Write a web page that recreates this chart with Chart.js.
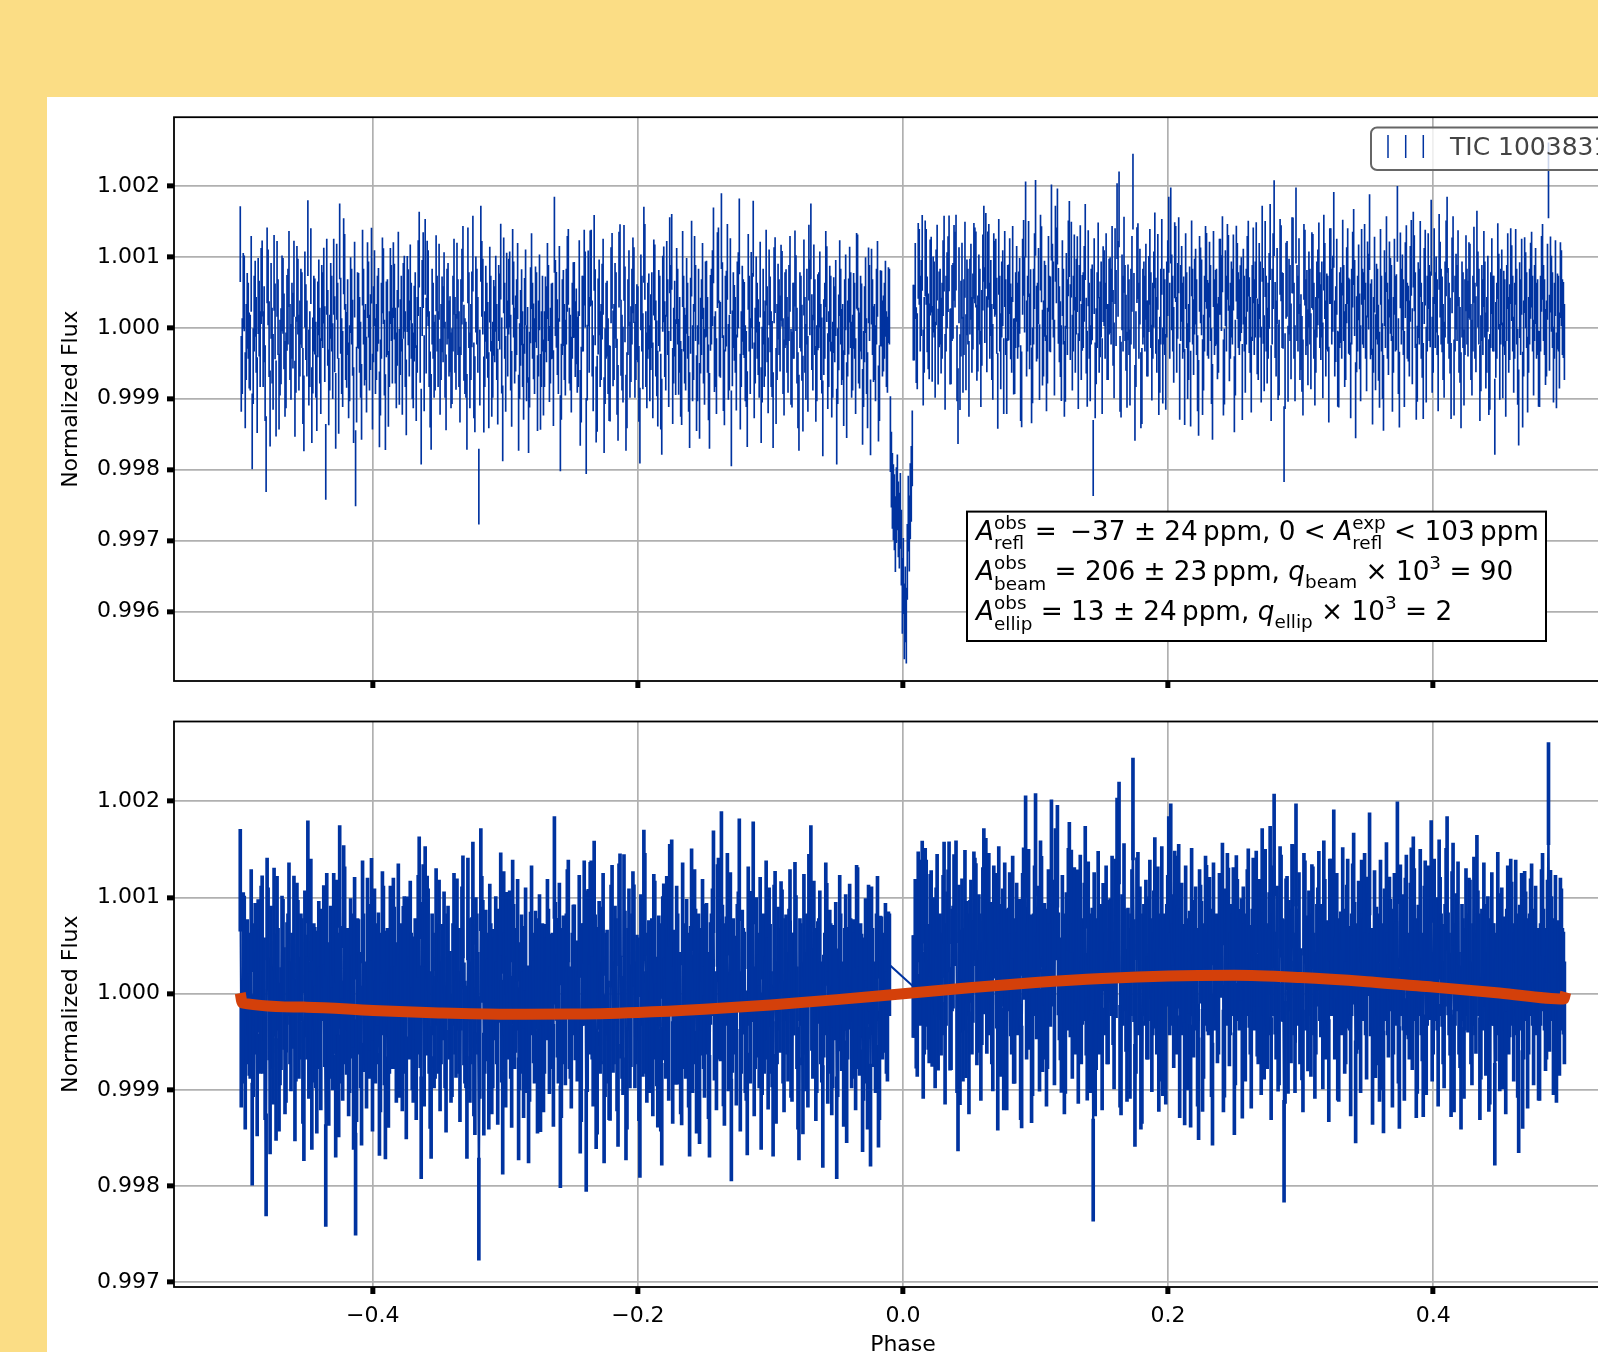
<!DOCTYPE html>
<html>
<head>
<meta charset="utf-8">
<title>Phase-folded light curve</title>
<script src="https://cdn.jsdelivr.net/npm/chart.js@4.4.1/dist/chart.umd.min.js"></script>
<style>
  html, body { margin: 0; padding: 0; overflow: hidden; background: #fbdd85; }
  #page { position: relative; width: 1598px; height: 1352px; overflow: hidden; background: #fbdd85; }
  #sheet { position: absolute; left: 47px; top: 97px; right: 0; bottom: 0; background: #fff; }
  canvas { position: absolute; }
  #top { left: 47px; top: 97px; }
  #bottom { left: 47px; top: 700px; }
</style>
</head>
<body>
<div id="page">
  <div id="sheet"></div>
  <canvas id="top" width="1653" height="620"></canvas>
  <canvas id="bottom" width="1653" height="670"></canvas>
</div>
<script>
// phase grid of the folded light curve: main samples at PHASE_START + i*STEP,
// in-between samples half a step later
const PHASE_START = -0.5;
const PHASE_STEP = 0.0015;
const FLUX_ERR_PPM = 530;

// flux offsets in ppm
const fluxEarly = [
  1180, -400, 486, -200, 100, -350, -1460, 200, -100, 449,
  -300, 696, 50, -1780, 570, -1137, -250, 776, -997, 150,
  -420, 486, -50, -600, 300, -200, 100, 692, -380, 440,
  -150, 250, -1207, 80, 1266, -300, -1090, 200, -450, 120,
  -250, 350, 594, -1890, 0, -350, 200, 720, -1170, 100,
  1219, -400, 1009, -200, 150, -500, 300, -1090, -1980, 250,
  -100, -1044, 300, -200, 673, -350, 878, 50, -400, 200,
  -1151, 100, 589, -1188, 150, -300, 350, 673, -250, 0,
  -550, 200, 379, -300, 477, -150, 100, -600, 250, -100,
  1102, -1394, 813, 1000, 692, -300, -1184, 100, -350, 200,
  650, -200, 50, -450, 300, -150, -600, 200, -100, 664,
  -300, 150, 902, -400, -1184, 250, -200, 1046, -937, 300,
  -2240, 1186, 440, -300, 100, -880, 200, -450, 50, -200,
  350, 934, -1347, 100, 524, 440, -350, 860, -250, 150,
  -1198, 0, -300, 169, -500, -1230, 318, 100, -400, 250,
  -150, -904, 200, -300, 50, 350, -250, 100, 1312, 253,
  -400, -1487, 150, -200, 300, 860, -350, 100, 393
];
const fluxPreEclipse = [
  20, -300, -1128, 200, 850, -1525, 556, 836, -150, 1056,
  -1081, 160, -300, 370, -1231, 100, -400, -787, 804, -200,
  250, -1058, 925, -350, 916, -1198, 150, -450, 300, 603,
  -200, 50, -1380, 200, 1172, -300, 100, -500, 250, 710,
  -150, -857, 200, -1254, 612, -350, 150, 1023, 1070, -250,
  -414, 300, -100, -834, 200, -350, 100, -1160, 976, -200,
  350, -500, -1030, 150, -250, 400, -100, -1170, 300, 1163,
  -300, 813, -150, 1364, -638, 200, 930, -350, -1417, 250,
  -100, 400, 1289, -300, 150, -500, -1147, 200, 533, 1256,
  -250, 100, -450, -1090, 300, -150, 50, 570, -300, -1160,
  743, -200, 150, 636, -400, 250, -100, 350, -550, 100,
  836, -250, -1198, 200, -927, -100, 300, 920, 1219, -350,
  150, -500, 250, -200, -1277, 100, 617, -300, 200, -450,
  50, -1394, -64, 300, -200, 150, -1020, 160, 250, -350,
  100, 804, -250, 200, -1114, 50, -400, 598, -1263, 150,
  -200, 300, -1067, 276, -150, 100, -300, 320
];
const fluxEclipse = [
  -1500, -2300, -2600, -2500, -2700, -2580, -3780, -4140, -4200, -2620, -2445, -1700
];
const fluxPostEclipse = [
  74, -244, 944, 200, 1056, -100, 860, -50, 710, -227,
  400, 570, -265, 300, 100, 1046, 200, 757, -265, 350,
  916, 1060, -1105, -624, 664, 150, -344, 300, 440, -100,
  944, 822, -80, 300, 0, 1186, 1084, 822, 100, -200,
  799, 720, -890, 200, 400, -680, 150, 350, 729, -100,
  -404, 250, 100, 450, -867, 986, 1527, 200, -50, -811,
  300, 1550, 100, -484, 897, -150, 350, -250, 200, 1485,
  400, 1186, 1429, 50, -498, 300, -507, 150, 1252, 962,
  200, -100, 757, 350, -200, 250, 1210, -577, 100, 300,
  -1835, -740, 250, -100, 400, 617, 100, -200, 440, 300,
  0, 869, 1504, 1670, -731, 200, 350, -591, 150, 300,
  1920, -1058, 883, 100, -880, 300, 200, -150, 477, 250,
  100, 1093, -100, -694, 300, -531, 150, 400, 1312, 1443,
  200, 953, -100, 1023, 350, 100, -834, 250, -200, -857,
  300, 440, 150, -988, 598, -694, 200, 804, 100, 350,
  -1044, 150, 300, -100, 720, 1037, -545, 200, 776, 100,
  300, -937, 906, 250, 346
];
const fluxLate = [
  -764, 200, 300, 976, -100, 350, 150, 953, -200, 400,
  1186, -358, 200, 100, 1210, 300, 1546, -150, -484, 1000,
  250, -1639, 664, -507, 350, 1023, 100, 1443, 200, -200,
  -367, 930, 150, -274, 300, 813, 100, -100, 570, 250,
  400, 1060, -150, 200, 869, 300, 1382, 53, -577, 250,
  100, 350, -200, 869, 150, 300, 1140, -1021, 200, -50,
  860, 250, 100, 682, 1350, 150, -100, -344, 300, -591,
  200, -918, 250, 100, 682, 350, -100, 200, 1466, -871,
  300, 150, 673, 100, -150, 986, 1102, 250, -507, 300,
  100, -750, 850, 200, 350, 1270, -100, 250, 150, 1070,
  300, -200, 400, 1312, 100, -750, 1037, 200, 350, -100,
  -880, 250, 150, 300, 673, -200, 200, 100, 1116, 300,
  -358, 150, 400, -100, -694, 250, 200, -1254, 100, 510,
  300, -460, 150, 350, -100, 869, 200, 100, 300, -1123,
  150, -871, 743, 250, -100, 664, 200, 350, 100, -577,
  200, 930, 150, -150, 2080, 752, 250, 100, -600, 200,
  673, 150, -200
];

// in-between samples (dense core of the band)
const midEarly = [
  -650, 520, -880, 240, -320, 760, -540, 410, -950, 130,
  590, -300, -780, 880, -160, 380, -620, 90, 690, -900,
  -260, 450, -720, 210, 830, -480, -40, -1000, 620, -350,
  300, -820, 540, -150, -560, 870, -390, 160, -920, 430,
  -680, 250, -230, 720, -840, 380, -470, -90, 650, -960,
  170, -580, 790, -310, -740, 460, -140, 680, -800, 240,
  -450, 850, -280, -660, 400, -60, -900, 560, -200, 310,
  -700, 740, -420, 120, -860, 590, -250, 370, -600, 820,
  -130, -690, 480, -980, 290, 640, -470, 60, -780, 700,
  -240, 420, -640, -110, 560, -870, 300, -450, 770, -300,
  -690, 190, 530, -910, 380, -90, -540, 720, -340, 150,
  -800, 580, -210, -450, 880, -600, 260, -740, 470, -100,
  -560, 690, -940, 340, -170, 610, -720, 140, 480, -830,
  230, -390, 740, -650, -150, 540, -860, 400, -80, 660,
  -470, 290, -760, 570, -240, -590, 800, -190, 330, -920,
  500, -300, -700, 190, 660, -510, 90, -850, 420, -130,
  620, -760, 280, -420, 760, -250, -660, 390, -160
];
const midPreEclipse = [
  -380, 700, -800, 200, 540, -490, -100, 850, -640, 290,
  -930, 430, -200, 720, -540, 130, -780, 600, -290, 380,
  -690, 820, -140, -520, 330, -880, 560, -230, 740, -450,
  80, -790, 500, -330, 930, -600, 230, -60, -740, 640,
  -430, 280, -900, 480, -160, 690, -580, 350, -820, 130,
  590, -410, -720, 830, -250, 450, -650, 170, -500, 760,
  -920, 300, -110, 660, -550, 410, -770, 210, 560, -370,
  -680, 880, -170, 390, -840, 270, -480, 730, -290, 70,
  -630, 530, -900, 340, 110, -580, 790, -400, 240, -740,
  470, -130, 680, -520, -300, 850, -670, 190, -440, 600,
  -820, 370, -80, 550, -700, 290, -380, 760, -590, 100,
  490, -880, 250, -210, 710, -480, -650, 430, -60, 640,
  -790, 220, 540, -390, -130, 830, -610, 340, -730, 180,
  420, -540, 700, -270, -850, 500, -150, 610, -450, 240,
  -680, 780, -320, 90, -580, 460, -880, 350, 580, -230,
  -500, 690, -780, 270, -80, 410, -380, 300
];
const midEclipse = [
  -2000, -2460, -2910, -2320, -2860, -3100, -3500, -3900, -3300, -2900, -2200
];
const midPostEclipse = [
  74, 660, -330, 860, 420, -560, 980, 190, -190, 750,
  470, -450, 920, 260, -110, 700, -620, 530, 1050, -260,
  380, 820, -500, 600, 130, -380, 960, 430, -720, 650,
  230, 880, -210, 500, -580, 780, 320, -90, 930, 420,
  -480, 690, 170, 1000, -330, 560, 830, -680, 360, 90,
  900, -400, 620, 260, -780, 720, 470, -150, 970, 290,
  -530, 800, 60, 590, 1060, -280, 410, -640, 760, 190,
  650, -420, 880, 310, -160, 700, -720, 520, 980, 80,
  -350, 780, 440, -610, 910, 210, 620, -110, 840, -500,
  360, 730, -260, 950, 120, -680, 560, 800, -200, 460,
  900, -460, 280, 690, -650, 500, 1030, -70, 360, -560,
  760, 240, -300, 940, 580, -820, 400, 650, -150, 860,
  -490, 540, 170, 790, -380, 1000, 300, -620, 700, 100,
  500, -240, 900, 380, -760, 620, 190, 800, -470, 330,
  980, -130, 580, -640, 760, 430, -350, 900, 140, 680,
  -540, 830, 280, -190, 720, 490, -700, 560, 930, -220,
  400, 780, -420, 660, 150, 460
];
const midLate = [
  580, -380, 760, 180, -660, 880, 400, -120, 660, -520,
  310, 970, -250, 520, -780, 800, 110, 590, -420, 910,
  240, -610, 690, 440, -190, 1020, -500, 350, 730, -60,
  -700, 850, 280, 540, -330, 790, -560, 400, 950, 80,
  -460, 660, 230, -800, 870, 480, -150, 720, -590, 320,
  990, -300, 600, 170, -740, 820, 420, -90, 640, -500,
  300, 930, -360, 510, 90, -830, 750, 370, -210, 860,
  -470, 560, 1040, -130, 450, -650, 720, 220, -400, 810,
  500, -580, 910, 60, 620, -260, 770, -760, 390, 970,
  -170, 590, -520, 800, 260, -380, 870, 470, -640, 680,
  190, -450, 980, 310, -110, 740, -700, 510, 840, -240,
  400, -560, 770, 130, 650, -420, 890, -90, 540, -780,
  350, 830, -320, 480, -620, 730, 200, -170, 940, -480,
  570, 270, -720, 800, 80, 630, -380, 860, -550, 390,
  720, -150, 530, -660, 300, 820, -420, 590, 150, -580,
  760, 350, -270, 650, -70, 480, -520, 700, 230, -320,
  560, 110
];

// phase-curve model (ppm)
const modelPhase = [-0.5, -0.4985, -0.45, -0.4, -0.35, -0.3, -0.25, -0.2, -0.15, -0.1, -0.05,
  0, 0.05, 0.1, 0.15, 0.2, 0.25, 0.3, 0.35, 0.4, 0.45, 0.4985, 0.5];
const modelPpm = [5, -95, -140, -175, -200, -213, -212, -195, -162, -118, -62,
  0, 62, 116, 158, 185, 192, 168, 125, 68, 8, -55, 15];

// tick labels
const xTickValues = [-0.4, -0.2, 0, 0.2, 0.4];
const topYTicks = [0.996, 0.997, 0.998, 0.999, 1.000, 1.001, 1.002];
const bottomYTicks = [0.997, 0.998, 0.999, 1.000, 1.001, 1.002];

const legendLabel = 'TIC 1003831';
const fitLines = [
  [{t: 'A', it: 1}, {sup: 'obs', sub: 'refl'}, {t: ' =\u2002−37 ± 24\u2009ppm, 0 < '}, {t: 'A', it: 1}, {sup: 'exp', sub: 'refl'}, {t: ' < 103\u2009ppm'}],
  [{t: 'A', it: 1}, {sup: 'obs', sub: 'beam'}, {t: ' = 206 ± 23\u2009ppm, '}, {t: 'q', it: 1}, {sub: 'beam'}, {t: ' × 10'}, {sup: '3'}, {t: ' = 90'}],
  [{t: 'A', it: 1}, {sup: 'obs', sub: 'ellip'}, {t: ' = 13 ± 24\u2009ppm, '}, {t: 'q', it: 1}, {sub: 'ellip'}, {t: ' × 10'}, {sup: '3'}, {t: ' = 2'}]
];

const FONT = 'DejaVu Sans';
const BLUE = '#0033a0';
const ORANGE = '#d4400a';
Chart.defaults.font.family = FONT;

const err = FLUX_ERR_PPM * 1e-6;
const points = [];
function addGroup(arr, startIndex, eclipse) {
  arr.forEach((p, j) => {
    points.push({ phase: PHASE_START + (startIndex + j) * PHASE_STEP, flux: 1 + p * 1e-6, eclipse: eclipse });
  });
}
const iPre = fluxEarly.length;
const iEcl = iPre + fluxPreEclipse.length;
const iPost = iEcl + fluxEclipse.length;
const iLate = iPost + fluxPostEclipse.length;
addGroup(fluxEarly, 0, false);
addGroup(fluxPreEclipse, iPre, false);
addGroup(fluxEclipse, iEcl, true);
addGroup(fluxPostEclipse, iPost, false);
addGroup(fluxLate, iLate, false);
addGroup(midEarly, 0.5, false);
addGroup(midPreEclipse, iPre + 0.5, false);
addGroup(midEclipse, iEcl + 0.5, true);
addGroup(midPostEclipse, iPost - 0.5, false);
addGroup(midLate, iLate + 0.5, false);
points.sort((a, b) => a.phase - b.phase);
const outside = points.filter(p => !p.eclipse);

function fmtX(v) {
  if (Math.abs(v) < 1e-9) return '0.0';
  return v.toFixed(1).replace('-', '−');
}

function gridOpts() {
  return { offset: false, color: '#b0b0b0', lineWidth: 1.7, drawTicks: true,
    tickLength: 7, tickWidth: 5, tickColor: '#000' };
}

function xScale(labels, height) {
  return {
    type: 'linear', min: -0.55, max: 0.55, offset: false, z: 1,
    afterBuildTicks: s => { s.ticks = xTickValues.map(v => ({value: v})); },
    afterFit: s => { s.height = height; },
    grid: gridOpts(),
    border: {display: false},
    ticks: { color: labels ? '#000' : 'rgba(0,0,0,0)', font: {size: 22}, padding: 9,
      maxRotation: 0, autoSkip: false, callback: v => fmtX(v) },
    title: { display: labels, text: 'Phase', color: '#000', font: {size: 22}, padding: {top: 0, bottom: 12} }
  };
}

function yScale(vals, min, max) {
  return {
    type: 'linear', min: min, max: max, z: 1,
    afterBuildTicks: s => { s.ticks = vals.map(v => ({value: v})); },
    afterFit: s => { s.width = 127; },
    grid: gridOpts(),
    border: {display: false},
    ticks: { color: '#000', font: {size: 22}, padding: 7, autoSkip: false, callback: v => v.toFixed(3) },
    title: { display: true, text: 'Normalized Flux', color: '#000', font: {size: 22}, padding: {top: 11, bottom: 0} }
  };
}

const frame = {
  id: 'frame',
  afterDraw(chart) {
    const {ctx, chartArea: a} = chart;
    ctx.save();
    ctx.strokeStyle = '#000';
    ctx.lineWidth = 1.8;
    ctx.strokeRect(a.left, a.top, a.right - a.left, a.bottom - a.top);
    ctx.restore();
  }
};

function drawMath(ctx, x, y, tokens, F) {
  const main = F + 'px "' + FONT + '"';
  const ital = 'italic ' + F + 'px "' + FONT + '"';
  const small = (F * 0.7).toFixed(1) + 'px "' + FONT + '"';
  tokens.forEach(tk => {
    if (tk.t) {
      ctx.font = tk.it ? ital : main;
      ctx.fillText(tk.t, x, y);
      x += ctx.measureText(tk.t).width;
    } else {
      ctx.font = small;
      let w = 0;
      const both = tk.sup && tk.sub;
      if (tk.sup) { ctx.fillText(tk.sup, x, y - F * 0.4); w = Math.max(w, ctx.measureText(tk.sup).width); }
      if (tk.sub) { ctx.fillText(tk.sub, x, y + F * (both ? 0.38 : 0.3)); w = Math.max(w, ctx.measureText(tk.sub).width); }
      x += w;
    }
  });
}

const topDecor = {
  id: 'topDecor',
  afterDraw(chart) {
    const ctx = chart.ctx;
    ctx.save();
    // legend (page coords minus canvas offset 47,97)
    ctx.beginPath();
    ctx.roundRect(1324, 30.5, 330, 42.5, 6);
    ctx.fillStyle = 'rgba(255,255,255,0.8)';
    ctx.fill();
    ctx.strokeStyle = '#666';
    ctx.lineWidth = 2;
    ctx.stroke();
    ctx.strokeStyle = BLUE;
    ctx.lineWidth = 1.5;
    [1341, 1358.7, 1376.3].forEach(x => {
      ctx.beginPath(); ctx.moveTo(x, 38); ctx.lineTo(x, 61); ctx.stroke();
    });
    ctx.fillStyle = '#444';
    ctx.font = '25px "' + FONT + '"';
    ctx.textBaseline = 'alphabetic';
    ctx.fillText(legendLabel, 1403, 58);

    // fit result box
    ctx.fillStyle = '#fff';
    ctx.fillRect(920, 414.6, 579, 129.4);
    ctx.strokeStyle = '#000';
    ctx.lineWidth = 2;
    ctx.strokeRect(920, 414.6, 579, 129.4);
    ctx.fillStyle = '#000';
    [442.5, 483, 523].forEach((y, i) => drawMath(ctx, 929, y, fitLines[i], 26.3));
    ctx.restore();
  }
};

const common = {
  responsive: false, animation: false, devicePixelRatio: 1, events: [],
  plugins: { legend: {display: false}, tooltip: {enabled: false} }
};

new Chart(document.getElementById('top'), {
  type: 'bar',
  data: {
    datasets: [{
      data: points.map(p => ({x: p.phase, y: [p.flux - err, p.flux + err]})),
      backgroundColor: BLUE,
      barThickness: 1, borderWidth: 0, grouped: false
    }]
  },
  options: Object.assign({}, common, {
    layout: {padding: {left: 0, top: 17, right: 68, bottom: 0}},
    scales: { x: xScale(false, 36), y: yScale(topYTicks, 0.99502, 1.00297) }
  }),
  plugins: [frame, topDecor]
});

new Chart(document.getElementById('bottom'), {
  type: 'bar',
  data: {
    datasets: [
      {
        type: 'line', order: 0,
        data: modelPhase.map((x, i) => ({x: x, y: 1 + modelPpm[i] * 1e-6})),
        borderColor: ORANGE, borderWidth: 11, pointRadius: 0,
        cubicInterpolationMode: 'monotone', borderJoinStyle: 'miter', borderCapStyle: 'butt'
      },
      {
        order: 1,
        data: outside.map(p => ({x: p.phase, y: [p.flux - err, p.flux + err]})),
        backgroundColor: BLUE, barThickness: 3, borderWidth: 0, grouped: false
      },
      {
        type: 'line', order: 2,
        data: outside.map(p => ({x: p.phase, y: p.flux})),
        borderColor: BLUE, borderWidth: 2, pointRadius: 0, tension: 0
      }
    ]
  },
  options: Object.assign({}, common, {
    layout: {padding: {left: 0, top: 21.5, right: 68, bottom: 0}},
    scales: { x: xScale(true, 83), y: yScale(bottomYTicks, 0.99695, 1.00283) }
  }),
  plugins: [frame]
});
</script>
</body>
</html>
